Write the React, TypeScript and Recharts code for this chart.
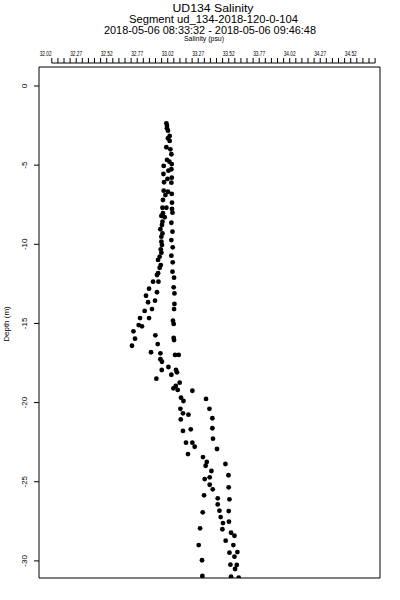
import React from 'react';
import { ScatterChart, Scatter, XAxis, YAxis, ReferenceArea } from 'recharts';

// Depth (m) of each sample
const depth: number[] = [
  -2.36, -2.51, -2.67, -2.82, -3.16, -3.3, -3.47, -3.87, -4.0, -4.31,
  -4.67, -4.78, -4.93, -5.05, -5.26, -5.35, -5.56, -5.79, -5.87, -6.08,
  -6.11, -6.61, -6.68, -6.82, -6.89, -7.2, -7.37, -7.69, -7.69, -7.77,
  -8.0, -8.04, -8.21, -8.29, -8.57, -8.64, -8.78, -9.05, -9.2, -9.31,
  -9.52, -9.73, -9.84, -10.04, -10.19, -10.32, -10.53, -10.72, -10.78, -10.99,
  -11.14, -11.31, -11.48, -11.73, -11.83, -11.94, -12.11, -12.36, -12.36, -12.72,
  -12.8, -13.03, -13.1, -13.25, -13.56, -13.66, -13.77, -14.09, -14.09, -14.21,
  -14.66, -14.66, -14.83, -15.03, -15.1, -15.18, -15.5, -15.75, -15.96, -15.92,
  -16.05, -16.3, -16.41, -16.82, -16.89, -16.99, -16.99, -17.26, -17.42, -17.75,
  -17.94, -17.94, -18.09, -18.24, -18.49, -18.74, -18.95, -19.1, -19.2, -19.25,
  -19.69, -19.77, -19.9, -20.39, -20.39, -20.68, -20.76, -20.99, -21.06, -21.62,
  -21.69, -21.79, -22.28, -22.53, -22.53, -22.79, -22.93, -23.25, -23.44, -23.75,
  -23.88, -23.99, -24.32, -24.59, -24.72, -24.83, -25.19, -25.35, -25.48, -25.86,
  -26.05, -26.11, -26.43, -26.83, -26.85, -26.93, -27.23, -27.52, -27.61, -27.94,
  -28.0, -28.22, -28.41, -28.72, -29.0, -29.0, -29.44, -29.48, -29.73, -29.96,
  -30.24, -30.26, -30.51, -30.95, -31.0, -31.06,
];

// Salinity (psu) of each sample
const salinity: number[] = [
  33.009, 33.014, 33.014, 33.022, 33.036, 33.022, 33.036, 33.009, 33.042, 33.05,
  33.014, 33.034, 33.053, 32.987, 33.05, 33.026, 32.985, 33.053, 33.018, 32.99,
  33.05, 32.987, 33.022, 33.053, 33.001, 32.981, 33.055, 32.977, 33.009, 33.055,
  33.059, 32.981, 32.968, 32.995, 32.977, 33.05, 32.973, 32.96, 33.059, 32.977,
  32.968, 33.05, 32.968, 32.973, 33.061, 32.963, 32.968, 33.05, 32.954, 32.941,
  33.061, 32.963, 32.954, 33.059, 32.941, 32.932, 33.072, 32.9, 32.944, 33.069,
  32.867, 32.932, 33.075, 32.842, 32.916, 32.859, 33.075, 33.072, 32.891, 32.831,
  32.793, 32.867, 33.063, 33.069, 32.782, 32.809, 32.739, 32.919, 32.752, 33.069,
  33.072, 32.938, 32.727, 32.883, 32.96, 33.08, 33.11, 32.96, 32.973, 33.026,
  32.971, 33.088, 33.096, 33.05, 32.927, 33.118, 33.086, 33.067, 33.102, 33.222,
  33.129, 33.334, 33.149, 33.362, 33.124, 33.145, 33.19, 33.386, 33.127, 33.386,
  33.209, 33.145, 33.391, 33.17, 33.222, 33.241, 33.424, 33.186, 33.309, 33.34,
  33.493, 33.331, 33.378, 33.518, 33.364, 33.323, 33.364, 33.52, 33.389, 33.318,
  33.43, 33.526, 33.43, 33.444, 33.52, 33.307, 33.454, 33.522, 33.473, 33.285,
  33.468, 33.539, 33.567, 33.495, 33.558, 33.274, 33.591, 33.526, 33.567, 33.301,
  33.534, 33.586, 33.572, 33.304, 33.539, 33.602,
];

const labelTicks: number[] = [32.02, 32.27, 32.52, 32.77, 33.02, 33.27, 33.52, 33.77, 34.02, 34.27, 34.52];
const minorTicks: number[] = [
  32.07, 32.12, 32.17, 32.22, 32.27, 32.32, 32.37, 32.42, 32.47, 32.52,
  32.57, 32.62, 32.67, 32.72, 32.77, 32.82, 32.87, 32.92, 32.97, 33.02,
  33.07, 33.12, 33.17, 33.22, 33.27, 33.32, 33.37, 33.42, 33.47, 33.52,
  33.57, 33.62, 33.67, 33.72, 33.77, 33.82, 33.87, 33.92, 33.97, 34.02,
  34.07, 34.12, 34.17, 34.22, 34.27, 34.32, 34.37, 34.42, 34.47, 34.52,
  34.57, 34.62, 34.67, 34.72,
];
const depthTicks: number[] = [0, -5, -10, -15, -20, -25, -30];

const data = depth.map((d, i) => ({ d, s: salinity[i] }));

const X_DOMAIN: [number, number] = [31.965, 34.76];
const Y_DOMAIN: [number, number] = [-31.08, 1.453];
const BOX_TOP = 1.2;

const allTopTicks = [32.02, ...minorTicks];
const labelSet = new Set(labelTicks.map((v) => v.toFixed(2)));
const minorSet = new Set(minorTicks.map((v) => v.toFixed(2)));
const FIRST_MINOR = minorTicks[0].toFixed(2);

const FONT = 'Arial, "Liberation Sans", Helvetica, sans-serif';
const AXIS_Y = 63;
const STEP_PX = 6.1;

const TopTick = (props: any) => {
  const { x, payload } = props;
  const key = Number(payload.value).toFixed(2);
  const isMinor = minorSet.has(key);
  const isLabel = labelSet.has(key);
  return (
    <g>
      {isMinor && <line x1={x} y1={AXIS_Y} x2={x} y2={AXIS_Y - 5} stroke="#000" strokeWidth={1} />}
      {isMinor && key !== FIRST_MINOR && (
        <line x1={x - STEP_PX} y1={AXIS_Y} x2={x} y2={AXIS_Y} stroke="#000" strokeWidth={1} />
      )}
      {isLabel && (
        <text
          x={x}
          y={55.5}
          textAnchor="middle"
          fontSize={7}
          fontFamily={FONT}
          fill="#000"
          textLength={12}
          lengthAdjust="spacingAndGlyphs"
        >
          {key}
        </text>
      )}
    </g>
  );
};

const LeftTick = (props: any) => {
  const { y, payload } = props;
  const lx = 27;
  return (
    <text
      x={lx}
      y={y}
      textAnchor="middle"
      fontSize={8}
      fontFamily={FONT}
      fill="#000"
      transform={`rotate(-90, ${lx}, ${y})`}
    >
      {String(payload.value)}
    </text>
  );
};

const Dot = (p: any) => <circle cx={p.cx} cy={p.cy} r={2.4} fill="#000" />;

export default function App() {
  return (
    <div style={{ position: 'absolute', left: 0, top: 0, width: 400, height: 600, background: '#fff' }}>
      <ScatterChart
        width={400}
        height={600}
        margin={{ top: 55, right: 20, bottom: 22, left: 0 }}
      >
        <XAxis
          xAxisId="x"
          type="number"
          dataKey="s"
          orientation="top"
          domain={X_DOMAIN}
          allowDataOverflow
          ticks={allTopTicks}
          interval={0}
          height={8}
          axisLine={false}
          tickLine={false}
          tick={<TopTick />}
        />
        <YAxis
          yAxisId="y"
          type="number"
          dataKey="d"
          domain={Y_DOMAIN}
          allowDataOverflow
          ticks={depthTicks}
          interval={0}
          width={39}
          axisLine={false}
          tickLine={{ stroke: '#000', strokeWidth: 1 }}
          tickSize={5}
          tick={<LeftTick />}
        />
        <ReferenceArea
          xAxisId="x"
          yAxisId="y"
          x1={X_DOMAIN[0]}
          x2={X_DOMAIN[1]}
          y1={Y_DOMAIN[0]}
          y2={BOX_TOP}
          fill="none"
          fillOpacity={0}
          stroke="#000"
          strokeWidth={1}
          ifOverflow="visible"
        />
        <Scatter
          xAxisId="x"
          yAxisId="y"
          data={data}
          fill="#000"
          shape={<Dot />}
          isAnimationActive={false}
        />
      </ScatterChart>
      <svg
        width={400}
        height={600}
        style={{ position: 'absolute', left: 0, top: 0, pointerEvents: 'none' }}
      >
        <text x={213} y={11.5} textAnchor="middle" fontSize={10} fontFamily={FONT} textLength={81} lengthAdjust="spacingAndGlyphs">
          UD134 Salinity
        </text>
        <text x={213.5} y={22.5} textAnchor="middle" fontSize={10} fontFamily={FONT} textLength={169} lengthAdjust="spacingAndGlyphs">
          Segment ud_134-2018-120-0-104
        </text>
        <text x={210} y={33.5} textAnchor="middle" fontSize={10} fontFamily={FONT} textLength={212} lengthAdjust="spacingAndGlyphs">
          2018-05-06 08:33:32 - 2018-05-06 09:46:48
        </text>
        <text x={204} y={41} textAnchor="middle" fontSize={7} fontFamily={FONT} textLength={40} lengthAdjust="spacingAndGlyphs">
          Salinity (psu)
        </text>
        <text
          x={9}
          y={324}
          textAnchor="middle"
          fontSize={8}
          fontFamily={FONT}
          transform="rotate(-90, 9, 324)"
        >
          Depth (m)
        </text>
      </svg>
    </div>
  );
}
